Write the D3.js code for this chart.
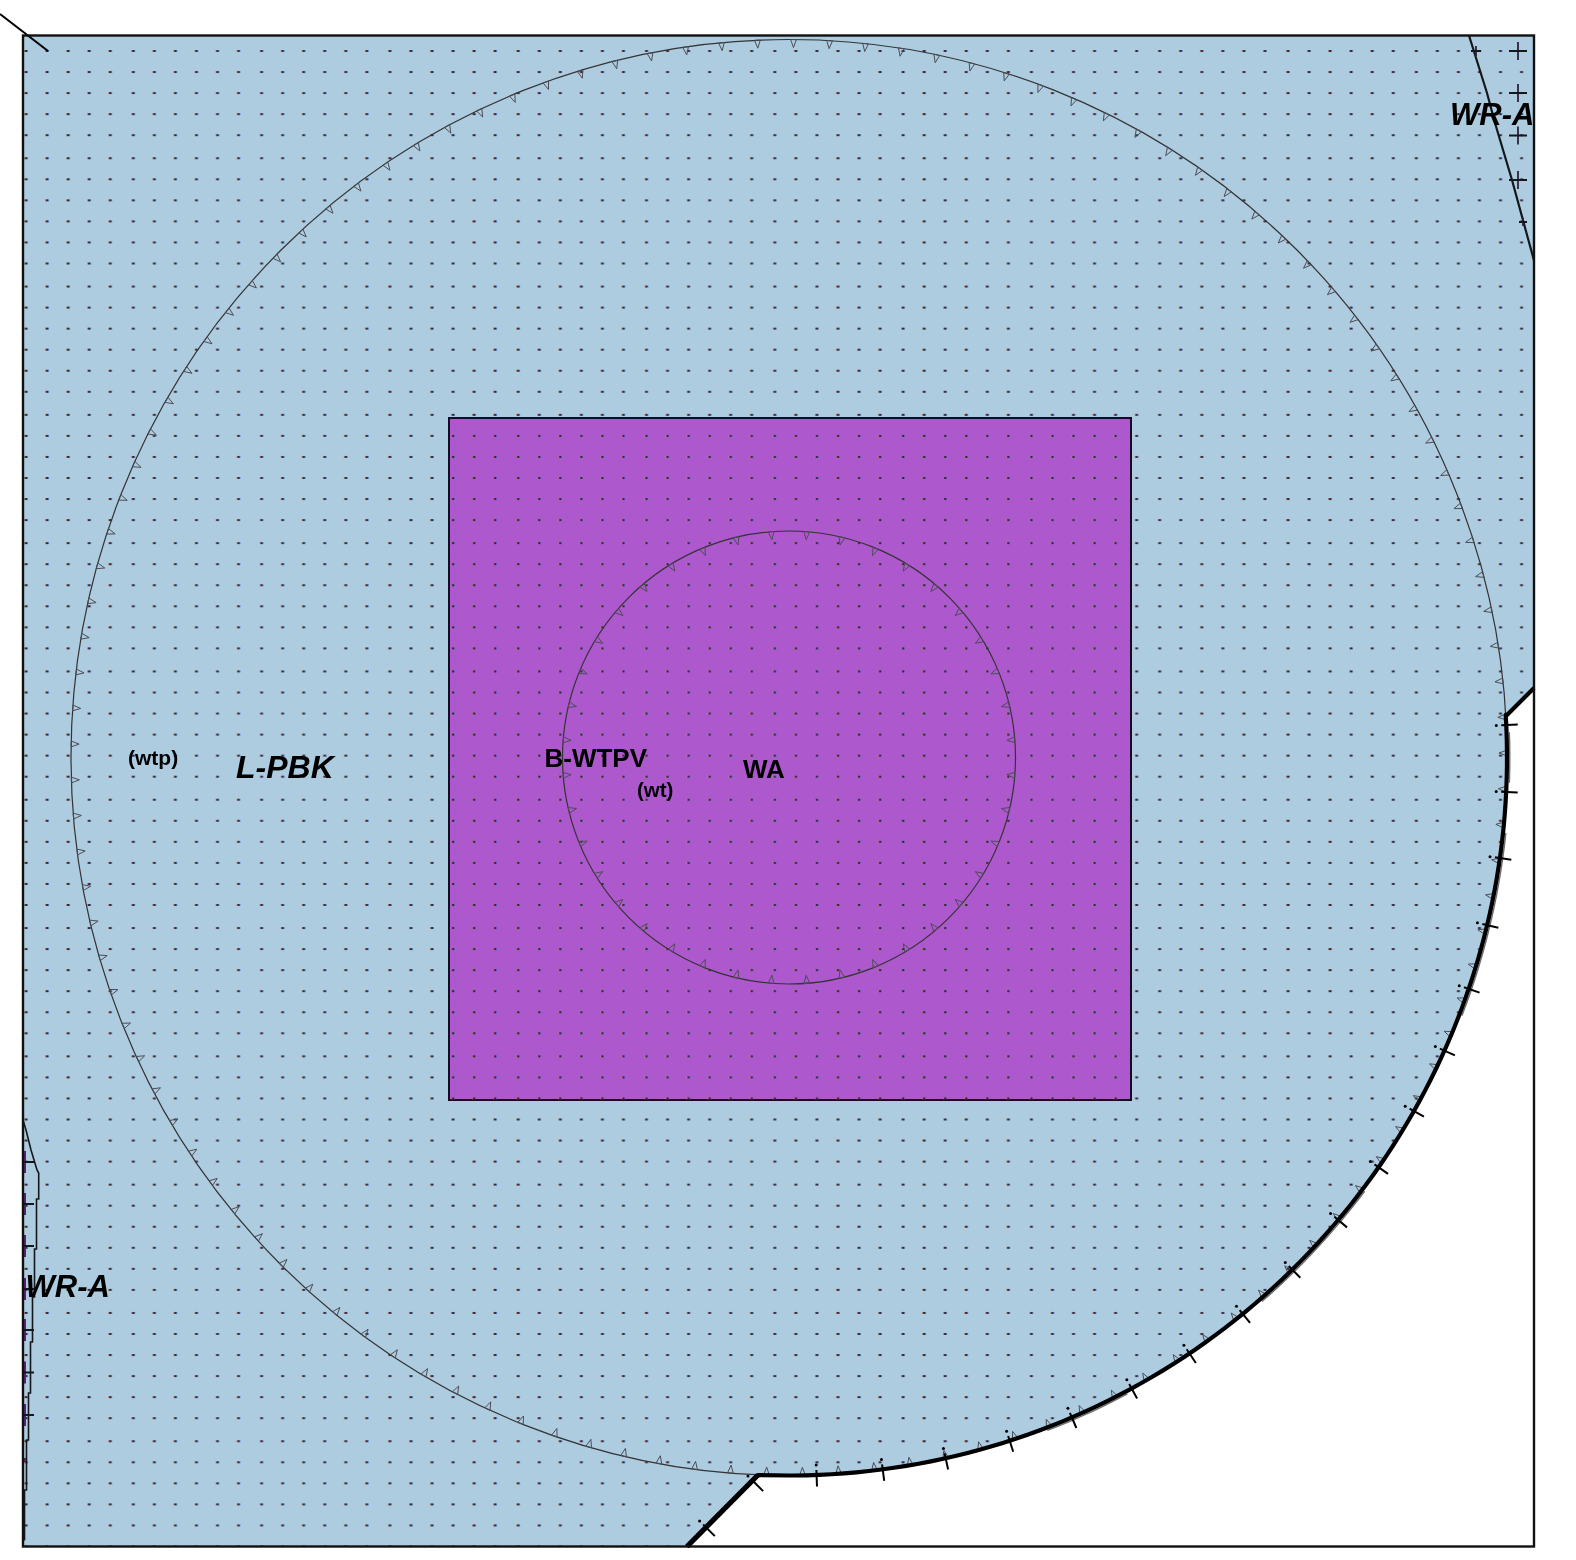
<!DOCTYPE html>
<html>
<head>
<meta charset="utf-8">
<script src="https://cdn.jsdelivr.net/npm/d3@7"></script>
<style>
  html, body { margin: 0; background: #fff; }
  svg { display: block; filter: blur(0.4px); }
  text { font-family: "Liberation Sans", Arial, sans-serif; font-weight: bold; fill: #000; }
</style>
</head>
<body>
<svg id="chart" width="1576" height="1560"></svg>
<script>
// sheet coordinates, origin at the top left of the frame
const sheetSize = 1511;
const circleCentre = [766, 722];
const outerRadius = 718;
const innerRadius = 226.5;
const squareX = [426, 1108];
const squareY = [382.5, 1064.5];

const outerToothCount = 125;
const outerToothStart = -0.36;
const innerToothCount = 40;
const innerToothStart = 4.5;

const limitArcStart = -3.4;
const limitArcEnd = 90;
const limitHead = [[1511, 652.5], [1484, 679.5]];
const limitTail = [[735, 1439.5], [664, 1511]];
const limitTickAngles = [-2.6, 2.75, 8.05, 13.5, 18.8, 24.1, 29.5, 34.8, 40.1, 45.5, 50.8, 56.1, 61.5, 66.8, 72.1, 77.4, 82.5, 87.8];
const limitDiagonalTicks = [[732, 1447.5], [683.7, 1492.5]];
const limitHaloSpans = [[-2, 3], [6, 22], [37, 50], [62, 70]];

const contactTopRight = [[1446, 0], [1464, 57.5], [1472, 87.5], [1489, 144.5], [1511, 225]];
const contactBottomLeft = [
  [0, 1084.5], [3, 1094.5], [8, 1114.5], [14, 1134.5], [15.7, 1137.5], [15.7, 1163.5],
  [13.5, 1163.5], [13.5, 1213.5], [11.5, 1213.5], [11.5, 1261.5], [9.5, 1261.5], [9.5, 1306.5],
  [7.5, 1306.5], [7.5, 1357.5], [5.5, 1357.5], [5.5, 1404.5], [3.5, 1404.5], [3.5, 1454.5],
  [1.5, 1454.5], [1.5, 1505]
];
const crossesTopRight = [[1495, 15.5, 9], [1495, 57.5, 9], [1495, 100, 9], [1495, 144.5, 9], [1500, 186.5, 4], [1453, 15.5, 5]];
const crossesBottomLeft = [[0, 1126.5, 11], [0, 1168.5, 11], [0, 1210.5, 11], [0, 1253.5, 11], [0, 1294.5, 11], [0, 1337, 11], [0, 1379.5, 11], [0, 1424.5, 2]];
const leaderLine = [[-23, -21.5], [25, 15.5]];

const labelNames = ["L-PBK", "WR-A", "WR-A", "(wtp)", "B-WTPV", "(wt)", "WA"];
const labelX = [213, 1427, 2.5, 105, 521.5, 614, 720];
const labelY = [742.5, 89.5, 1261, 729.5, 731, 761.5, 742];
const labelSizes = [32, 31, 31, 21, 26, 20.5, 26];
const labelItalic = [true, true, true, false, false, false, false];

const stipplePitch = 21.05;
const stippleJump = 2;
const stippleJumpEvery = 6;
const stippleStart = [3, 15.5];
const stippleCount = 71;

const svg = d3.select("#chart");

const xScale = d3.scaleLinear().domain([0, sheetSize]).range([23, 1534]);
const yScale = d3.scaleLinear().domain([0, sheetSize]).range([35.5, 1546.5]);
const line = d3.line().x((d) => xScale(d[0])).y((d) => yScale(d[1]));
const rad = (deg) => (deg * Math.PI) / 180;
const onCircle = (r, deg) => [
  circleCentre[0] + r * Math.cos(rad(deg)),
  circleCentre[1] + r * Math.sin(rad(deg)),
];

const limitArc = d3.range(limitArcStart, limitArcEnd, 1).concat(limitArcEnd).map((a) => onCircle(outerRadius, a));
const limitLine = [limitHead[0], limitHead[1], ...limitArc, ...limitTail];
const landPolygon = [[0, 0], [sheetSize, 0], ...limitLine, [0, sheetSize]];

const defs = svg.append("defs");
defs.append("clipPath").attr("id", "frame-clip")
  .append("rect")
  .attr("x", xScale(0)).attr("y", yScale(0))
  .attr("width", xScale(sheetSize) - xScale(0)).attr("height", yScale(sheetSize) - yScale(0));
defs.append("clipPath").attr("id", "land-clip")
  .append("path").attr("d", line(landPolygon) + "Z");
const grad = defs.append("linearGradient").attr("id", "speck");
[[0, "#b89a70", 0.7], [0.34, "#5c2c34", 1], [0.62, "#30283e", 1], [1, "#3b8cf0", 0.7]].forEach((s) => {
  grad.append("stop").attr("offset", s[0]).attr("stop-color", s[1]).attr("stop-opacity", s[2]);
});

svg.append("path").attr("d", line(landPolygon) + "Z").attr("fill", "#aecce0");

svg.append("rect")
  .attr("x", xScale(squareX[0])).attr("y", yScale(squareY[0]))
  .attr("width", xScale(squareX[1]) - xScale(squareX[0]))
  .attr("height", yScale(squareY[1]) - yScale(squareY[0]))
  .attr("fill", "#ae58ce").attr("stroke", "#140c24").attr("stroke-width", 2);

// stipple, the source rendering snaps a couple of px every sixth step
const stippleAt = (i, origin) => origin + stipplePitch * i + stippleJump * Math.floor((i + 1) / stippleJumpEvery);
const stipple = [];
d3.range(stippleCount).forEach((i) => {
  d3.range(stippleCount).forEach((j) => {
    stipple.push([stippleAt(i, stippleStart[0]), stippleAt(j, stippleStart[1])]);
  });
});
svg.append("g").attr("clip-path", "url(#land-clip)")
  .selectAll("rect").data(stipple).join("rect")
  .attr("x", (d) => xScale(d[0]) - 2.1).attr("y", (d) => yScale(d[1]) - 1)
  .attr("width", 4.2).attr("height", 2)
  .attr("fill", "url(#speck)");

const circles = svg.append("g").attr("fill", "none").attr("stroke", "#333").attr("stroke-width", 1.2);
[outerRadius, innerRadius].forEach((r) => {
  circles.append("circle")
    .attr("cx", xScale(circleCentre[0])).attr("cy", yScale(circleCentre[1]))
    .attr("r", xScale(r) - xScale(0));
});

const tooth = (r, deg) => {
  const half = (2.9 / r) * (180 / Math.PI);
  return [onCircle(r, deg - half), onCircle(r - 8, deg), onCircle(r, deg + half)];
};
const teeth = d3.range(outerToothCount).map((i) => tooth(outerRadius, outerToothStart + (i * 360) / outerToothCount))
  .concat(d3.range(innerToothCount).map((i) => tooth(innerRadius, innerToothStart + (i * 360) / innerToothCount)));
svg.append("g").selectAll("path").data(teeth).join("path")
  .attr("d", (d) => line(d) + "Z")
  .attr("fill", "none").attr("stroke", "#4c4c56").attr("stroke-width", 1);

// contacts
svg.append("path").attr("d", line(contactTopRight))
  .attr("fill", "none").attr("stroke", "#14181c").attr("stroke-width", 2.2);
svg.append("path").attr("d", line(contactBottomLeft))
  .attr("fill", "none").attr("stroke", "#14181c").attr("stroke-width", 1.6);

const crosses = svg.append("g").attr("clip-path", "url(#frame-clip)");
crossesTopRight.concat(crossesBottomLeft).forEach((c) => {
  const [x, y, arm] = c;
  crosses.append("line")
    .attr("x1", xScale(x)).attr("x2", xScale(x)).attr("y1", yScale(y - arm)).attr("y2", yScale(y + arm))
    .attr("stroke", x === 0 ? "#5b1f7c" : "#2e2238").attr("stroke-width", x === 0 ? 6 : 1.8);
  if (arm > 2) {
    crosses.append("line")
      .attr("x1", xScale(x - arm)).attr("x2", xScale(x + arm)).attr("y1", yScale(y)).attr("y2", yScale(y))
      .attr("stroke", "#14181c").attr("stroke-width", 1.8);
  }
});

// grey ghost of the limit line just outside it
const halo = svg.append("g").attr("fill", "none").attr("stroke", "#6e6e72").attr("stroke-width", 1.4);
limitHaloSpans.forEach((s) => {
  halo.append("path").attr("d", line(d3.range(s[0], s[1], 1).map((a) => onCircle(outerRadius + 2.8, a))));
});

// thick limit line with its ticks
svg.append("path").attr("d", line(limitLine))
  .attr("fill", "none").attr("stroke", "#000").attr("stroke-width", 4.2).attr("stroke-linejoin", "round");
svg.append("path").attr("d", line(limitTail))
  .attr("fill", "none").attr("stroke", "#000").attr("stroke-width", 5.2);

const limitTicks = limitTickAngles.map((a) => ({ p: onCircle(outerRadius, a), n: [Math.cos(rad(a)), Math.sin(rad(a))] }))
  .concat(limitDiagonalTicks.map((p) => ({ p: p, n: [Math.SQRT1_2, Math.SQRT1_2] })));
const tickGroup = svg.append("g");
tickGroup.selectAll("line").data(limitTicks).join("line")
  .attr("x1", (d) => xScale(d.p[0] - d.n[0] * 5)).attr("y1", (d) => yScale(d.p[1] - d.n[1] * 5))
  .attr("x2", (d) => xScale(d.p[0] + d.n[0] * 11.5)).attr("y2", (d) => yScale(d.p[1] + d.n[1] * 11.5))
  .attr("stroke", "#000").attr("stroke-width", 2);
tickGroup.selectAll("circle").data(limitTicks).join("circle")
  .attr("cx", (d) => xScale(d.p[0] - d.n[0] * 10)).attr("cy", (d) => yScale(d.p[1] - d.n[1] * 10))
  .attr("r", 1.5).attr("fill", "#000");

svg.append("path").attr("d", line(leaderLine))
  .attr("fill", "none").attr("stroke", "#000").attr("stroke-width", 2);

svg.append("rect")
  .attr("x", xScale(0)).attr("y", yScale(0))
  .attr("width", xScale(sheetSize) - xScale(0)).attr("height", yScale(sheetSize) - yScale(0))
  .attr("fill", "none").attr("stroke", "#111").attr("stroke-width", 2.4);

svg.append("g").selectAll("text").data(labelNames).join("text")
  .attr("x", (d, i) => xScale(labelX[i])).attr("y", (d, i) => yScale(labelY[i]))
  .attr("font-size", (d, i) => labelSizes[i])
  .attr("font-style", (d, i) => (labelItalic[i] ? "italic" : "normal"))
  .text((d) => d);
</script>
</body>
</html>
